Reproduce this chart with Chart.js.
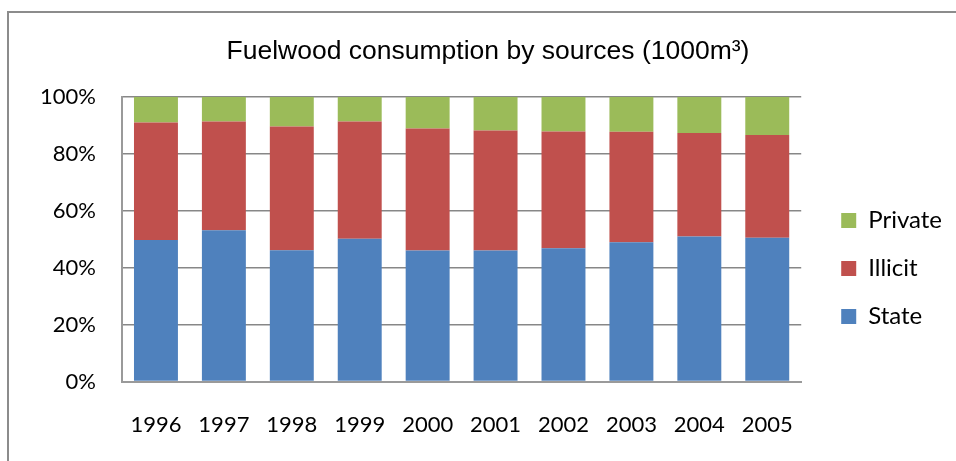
<!DOCTYPE html>
<html>
<head>
<meta charset="utf-8">
<script src="https://cdn.jsdelivr.net/npm/chart.js@4.4.1/dist/chart.umd.min.js"></script>
<style>
  html, body { margin: 0; padding: 0; background: #fff; }
  #wrap { position: relative; width: 956px; height: 461px; }
  #frame { position: absolute; left: 7px; top: 11px; width: 1000px; height: 500px;
           border-left: 2px solid #8c8c8c; border-top: 2px solid #8c8c8c; }
  canvas { position: absolute; left: 0; top: 0; }
</style>
</head>
<body>
<div id="wrap">
  <div id="frame"></div>
  <canvas id="myChart" width="956" height="461"></canvas>
</div>
<script>
// share of each source, in percent
var years = ['1996', '1997', '1998', '1999', '2000', '2001', '2002', '2003', '2004', '2005'];
var state = [49.7, 53.1, 46.1, 50.1, 46.0, 46.0, 46.8, 48.9, 50.9, 50.5];
var illicit = [41.3, 38.2, 43.5, 41.2, 42.9, 42.2, 41.0, 38.8, 36.4, 36.1];
var privateSrc = [9.0, 8.7, 10.4, 8.7, 11.1, 11.8, 12.2, 12.3, 12.7, 13.4];
var yTicks = [0, 20, 40, 60, 80, 100];

// legend sits a bit apart from the plot, like in the excel chart
var legendShift = {
  id: 'legendShift',
  afterLayout: function(chart) {
    var lg = chart.legend;
    lg.left += 16; lg.right += 16;
    lg.top += 31; lg.bottom += 31;
  }
};

var ctx = document.getElementById('myChart').getContext('2d');
var chart = new Chart(ctx, {
  type: 'bar',
  data: {
    labels: years,
    datasets: [
      { label: 'State', data: state, backgroundColor: '#4F81BD' },
      { label: 'Illicit', data: illicit, backgroundColor: '#C0504D' },
      { label: 'Private', data: privateSrc, backgroundColor: '#9BBB59' }
    ]
  },
  options: {
    responsive: false,
    animation: false,
    layout: { padding: { top: 14, left: 40, right: 20, bottom: 0 } },
    datasets: { bar: { barPercentage: 0.647, categoryPercentage: 1 } },
    plugins: {
      title: {
        display: true,
        text: 'Fuelwood consumption by sources (1000m³)',
        color: '#000',
        font: { family: '"Liberation Sans", Arial, sans-serif', size: 26.5, weight: 'normal' },
        padding: { top: 22, bottom: 29 }
      },
      legend: {
        position: 'right',
        reverse: true,
        labels: {
          color: '#000',
          font: { family: 'Lato', size: 24 },
          boxWidth: 15,
          boxHeight: 15,
          padding: 24
        }
      },
      tooltip: { enabled: false }
    },
    scales: {
      x: {
        stacked: true,
        afterFit: function(scale) { scale.height = 79.5; },
        grid: { display: false, drawTicks: false },
        border: { color: '#9a9a9a', width: 2 },
        ticks: { color: '#000', font: { family: 'Lato', size: 22 }, padding: 30, maxRotation: 0 }
      },
      y: {
        stacked: true,
        min: 0,
        max: 100,
        afterFit: function(scale) { scale.width = 82; },
        afterBuildTicks: function(scale) {
          scale.ticks = yTicks.map(function(v) { return { value: v }; });
        },
        grid: { color: '#878787', lineWidth: 1.5, drawTicks: false },
        border: { color: '#9a9a9a', width: 2 },
        ticks: {
          color: '#000',
          font: { family: 'Lato', size: 22 },
          padding: 26,
          callback: function(v) { return v + '%'; }
        }
      }
    }
  },
  plugins: [legendShift]
});
</script>
</body>
</html>
